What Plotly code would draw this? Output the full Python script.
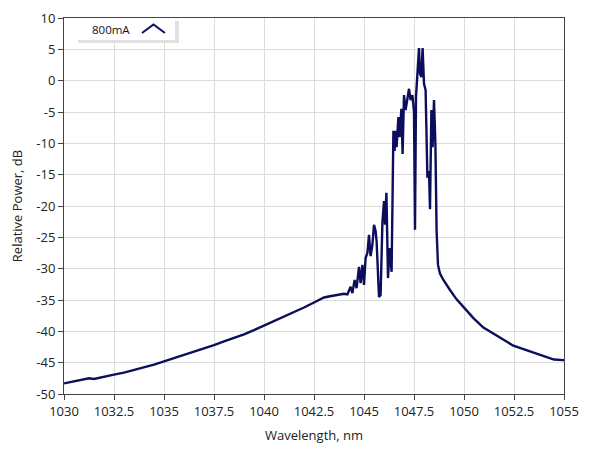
import plotly.graph_objects as go

wavelength_nm = [
    1030.0, 1030.5, 1031.0, 1031.25, 1031.5, 1032.0, 1032.5, 1033.0, 1033.5, 1034.0,
    1034.5, 1035.0, 1035.5, 1036.0, 1036.5, 1037.0, 1037.5, 1038.0, 1038.5, 1039.0,
    1039.5, 1040.0, 1040.5, 1041.0, 1041.5, 1042.0, 1042.5, 1042.8, 1043.0, 1043.3,
    1043.6, 1044.0, 1044.17, 1044.33, 1044.42, 1044.53, 1044.63, 1044.75, 1044.83, 1044.92,
    1045.0, 1045.08, 1045.17, 1045.25, 1045.33, 1045.42, 1045.5, 1045.58, 1045.63, 1045.75,
    1045.83, 1045.92, 1046.0, 1046.05, 1046.12, 1046.2, 1046.28, 1046.38, 1046.47, 1046.53,
    1046.58, 1046.63, 1046.72, 1046.78, 1046.87, 1046.93, 1047.0, 1047.08, 1047.17, 1047.25,
    1047.33, 1047.42, 1047.5, 1047.55, 1047.6, 1047.67, 1047.75, 1047.8, 1047.87, 1047.93,
    1048.0, 1048.08, 1048.17, 1048.25, 1048.3, 1048.37, 1048.43, 1048.5, 1048.57, 1048.63,
    1048.7, 1048.8, 1048.97, 1049.3, 1049.63, 1049.97, 1050.47, 1050.97, 1051.63, 1052.47,
    1053.3, 1054.13, 1054.5, 1054.97, 1055.0,
]
relative_power_db = [
    -48.3, -48.0, -47.7, -47.5, -47.6, -47.2, -46.9, -46.6, -46.2, -45.8,
    -45.3, -44.8, -44.3, -43.8, -43.2, -42.7, -42.2, -41.6, -41.1, -40.5,
    -39.8, -39.1, -38.4, -37.7, -36.9, -36.2, -35.4, -34.9, -34.6, -34.4,
    -34.2, -34.0, -34.1, -32.9, -33.9, -31.8, -33.1, -29.7, -32.3, -29.4,
    -32.6, -28.3, -27.5, -24.6, -28.0, -26.2, -23.0, -24.0, -25.6, -34.5,
    -34.2, -22.7, -19.2, -23.0, -17.9, -31.5, -26.7, -30.5, -8.0, -11.2,
    -8.0, -10.6, -5.8, -9.0, -4.5, -11.7, -2.3, -4.7, -2.9, -1.3,
    -3.1, -2.3, -5.0, -23.8, -2.6, 0.6, 5.2, 1.1, 0.6, 5.2,
    -0.5, -1.5, -15.5, -14.4, -20.5, -4.7, -10.6, -3.1, -10.1, -24.0,
    -29.4, -30.8, -31.8, -33.4, -34.9, -36.1, -37.9, -39.4, -40.7, -42.3,
    -43.2, -44.1, -44.5, -44.6, -44.6,
]

x_ticks = [1030, 1032.5, 1035, 1037.5, 1040, 1042.5, 1045, 1047.5, 1050, 1052.5, 1055]
x_tick_labels = ["1030", "1032.5", "1035", "1037.5", "1040", "1042.5", "1045",
                 "1047.5", "1050", "1052.5", "1055"]
y_ticks = [10, 5, 0, -5, -10, -15, -20, -25, -30, -35, -40, -45, -50]
series_name = "800mA"

line_color = "#0d0d5e"
font_family = "Open Sans, Noto Sans, DejaVu Sans, sans-serif"

fig = go.Figure()
fig.add_trace(go.Scatter(
    x=wavelength_nm, y=relative_power_db, mode="lines", name=series_name,
    line=dict(color=line_color, width=2.4), showlegend=False,
))

W, H = 589, 456
L, R, T, B = 64, 564, 18, 394


def px(xp):
    return (xp - L) / (R - L)


def py(yp):
    return (B - yp) / (B - T)


shapes = [
    # legend shadow
    dict(type="rect", xref="paper", yref="paper", x0=px(78), x1=px(179), y0=py(43), y1=py(21),
         fillcolor="#e0e0e0", line=dict(width=0), layer="above"),
    # legend box
    dict(type="rect", xref="paper", yref="paper", x0=px(65), x1=px(175), y0=py(40), y1=py(18.5),
         fillcolor="white", line=dict(width=0), layer="above"),
    # legend symbol (chevron)
    dict(type="path", xref="paper", yref="paper",
         path=f"M {px(142)} {py(33)} L {px(153.5)} {py(24.5)} L {px(165)} {py(33)}",
         line=dict(color=line_color, width=2), layer="above"),
]

fig.update_layout(
    width=W, height=H,
    margin=dict(l=L, r=W - R, t=T, b=H - B, pad=0),
    paper_bgcolor="white", plot_bgcolor="white",
    font=dict(family=font_family, size=13, color="#222222"),
    shapes=shapes,
    annotations=[dict(text=series_name, xref="paper", yref="paper", x=px(111), y=py(29.5),
                      showarrow=False, xanchor="center", yanchor="middle",
                      font=dict(size=11.5, color="#111111"))],
    xaxis=dict(
        range=[1030, 1055], tickmode="array", tickvals=x_ticks, ticktext=x_tick_labels,
        showgrid=True, gridcolor="#dcdcdc", gridwidth=1,
        showline=True, linecolor="#444444", linewidth=1, mirror=True,
        ticks="outside", ticklen=5, tickcolor="#444444",
        tickfont=dict(size=13),
        title=dict(text="Wavelength, nm", font=dict(size=13), standoff=12),
        zeroline=False, automargin=False,
    ),
    yaxis=dict(
        range=[-50, 10], tickmode="array", tickvals=y_ticks,
        ticktext=[str(v) for v in y_ticks],
        showgrid=True, gridcolor="#dcdcdc", gridwidth=1,
        showline=True, linecolor="#444444", linewidth=1, mirror=True,
        ticks="outside", ticklen=5, tickcolor="#444444",
        tickfont=dict(size=13),
        title=dict(text="Relative Power, dB", font=dict(size=13), standoff=10),
        zeroline=False, automargin=False,
    ),
)

fig.write_html(
    "out.html",
    config={"displayModeBar": False},
    post_script="document.body.style.margin='0px';document.body.style.overflow='hidden';",
)
